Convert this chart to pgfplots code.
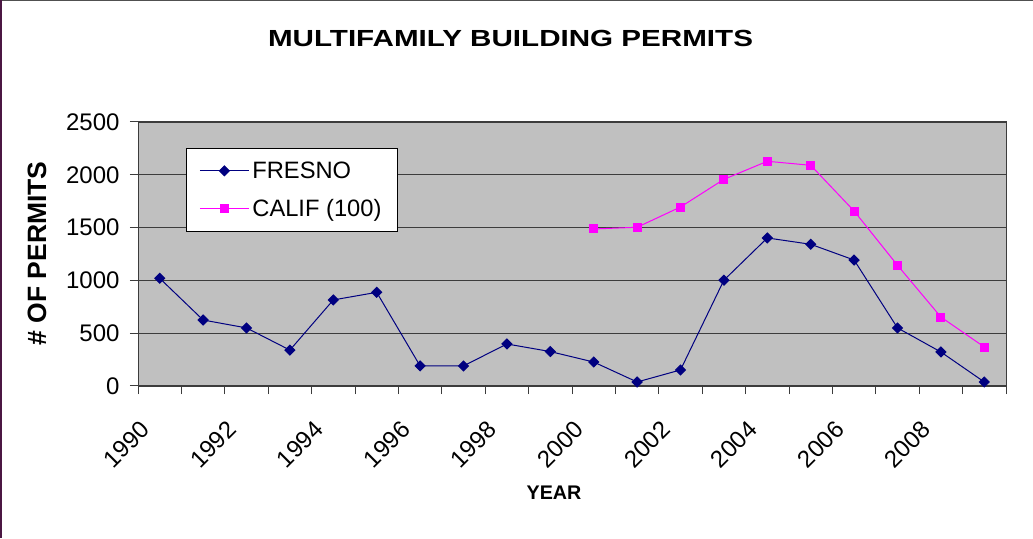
\documentclass[border=0pt]{standalone}
\usepackage{pgfplots}
\pgfplotsset{compat=1.18}
\usepackage{fontspec}
\setmainfont{Liberation Sans}
\usepackage{graphicx}
\definecolor{fresno}{HTML}{000080}
\definecolor{calif}{HTML}{FF00FF}
\definecolor{plotbg}{HTML}{C0C0C0}
\definecolor{gridc}{HTML}{3C3C3C}
\definecolor{edgeL}{HTML}{4B1743}
\definecolor{edgeT}{HTML}{505050}

\begin{document}
\begin{tikzpicture}[x=1pt,y=1pt]
\useasboundingbox (0,0) rectangle (1033,538);
\fill[white] (0,0) rectangle (1033,538);
\draw[edgeT, line width=1.5pt] (0,537.3) -- (1033,537.3);
\draw[edgeL, line width=2.5pt] (1.2,0) -- (1.2,538);

\begin{axis}[
  at={(138pt,152pt)}, anchor=south west,
  scale only axis, width=868pt, height=264pt,
  xmin=0, xmax=20, ymin=0, ymax=2500,
  axis background/.style={fill=plotbg},
  axis line style={draw=gridc, line width=1pt},
  tick align=outside, tick pos=left,
  major tick length=0pt, minor tick length=8pt,
  tick style={draw=gridc, line width=1pt},
  xtick={0.5,2.5,...,18.5},
  xticklabels={1990,1992,1994,1996,1998,2000,2002,2004,2006,2008},
  minor xtick={0,1,...,20},
  xticklabel style={xshift=-12pt, yshift=-37pt, rotate=45, anchor=east, font=\fontsize{24}{28}\selectfont},
  ytick={0,500,...,2500},
  minor ytick={0,500,...,2500},
  yticklabel style={xshift=-15pt, font=\fontsize{24}{28}\selectfont},
  /pgf/number format/1000 sep={},
  /pgf/number format/assume math mode=true,
  ymajorgrids, grid style={draw=gridc, line width=1.3pt},
  legend style={at={(0.0553,0.900)}, anchor=north west, draw=black, line width=0.8pt,
    fill=white, font=\fontsize{23.7}{28}\selectfont, inner xsep=13pt, inner ysep=11pt, row sep=15.5pt,
    nodes={inner xsep=3pt, inner ysep=2pt, text depth=0.15em}},
  legend cell align=left,
  legend image code/.code={\draw[mark repeat=2,mark phase=2] plot coordinates {(0pt,0pt) (24.5pt,0pt) (49pt,0pt)};},
]
\addplot[fresno, line width=1pt, mark=square*, mark size=3.5pt, mark options={fill=fresno, draw=fresno, rotate=45}] coordinates {
(0.5,1020) (1.5,625) (2.5,550) (3.5,340) (4.5,815) (5.5,887) (6.5,190) (7.5,190) (8.5,398) (9.5,326)
(10.5,227) (11.5,38) (12.5,152) (13.5,1002) (14.5,1402) (15.5,1342) (16.5,1193) (17.5,550) (18.5,322) (19.5,38)
};
\addlegendentry{FRESNO}
\addplot[calif, line width=1pt, mark=square*, mark size=4pt, mark options={fill=calif, draw=calif}] coordinates {
(10.5,1487) (11.5,1503) (12.5,1695) (13.5,1957) (14.5,2128) (15.5,2090) (16.5,1657) (17.5,1143) (18.5,653) (19.5,369)
};
\addlegendentry{CALIF (100)}
\end{axis}

\node[anchor=base, font=\bfseries\fontsize{23.3}{28}\selectfont] at (510.5,491.3) {\scalebox{1.27}[1]{MULTIFAMILY BUILDING PERMITS}};
\node[anchor=base, rotate=90, font=\bfseries\fontsize{26.5}{30}\selectfont] at (46,284.6) {\# OF PERMITS};
\node[anchor=base, font=\bfseries\fontsize{19.7}{24}\selectfont] at (554,38) {YEAR};
\end{tikzpicture}
\end{document}
